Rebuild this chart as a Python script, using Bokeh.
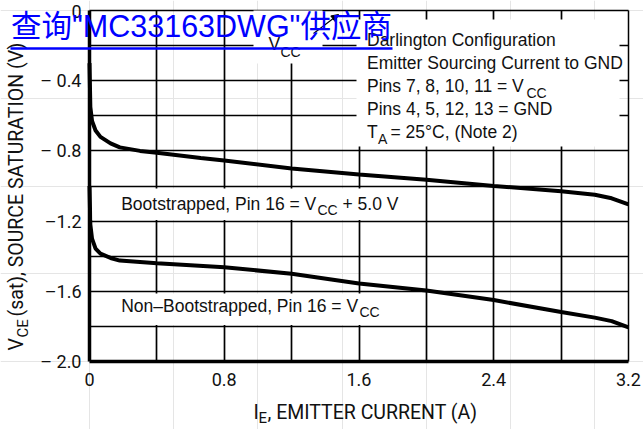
import math
from bokeh.plotting import figure
from bokeh.models import (Range1d, FixedTicker, Label, BoxAnnotation, Arrow, Grid,
                          NormalHead, CustomJSTickFormatter, LinearAxis)
from bokeh.embed import file_html
from bokeh.resources import INLINE

# ---------------- data ----------------
ie_boot = [0.0, 0.005, 0.015, 0.036, 0.065, 0.125, 0.18, 0.30, 0.40, 0.66,
           0.80, 1.20, 1.60, 2.00, 2.40, 2.80, 3.00, 3.10, 3.20]
vce_boot = [-0.30, -0.55, -0.63, -0.684, -0.72, -0.757, -0.78, -0.80, -0.81, -0.84,
            -0.855, -0.90, -0.935, -0.965, -1.00, -1.03, -1.05, -1.07, -1.105]

ie_nonboot = [0.0, 0.005, 0.015, 0.036, 0.065, 0.125, 0.18, 0.40, 0.80, 1.20,
              1.60, 2.00, 2.40, 2.80, 3.00, 3.10, 3.20]
vce_nonboot = [-1.00, -1.22, -1.30, -1.357, -1.385, -1.41, -1.425, -1.44, -1.463, -1.50,
               -1.555, -1.595, -1.65, -1.718, -1.75, -1.77, -1.806]

x_ticks = [0, 0.8, 1.6, 2.4, 3.2]
x_tick_labels = ["0", "0.8", "1.6", "2.4", "3.2"]
y_ticks = [-2.0, -1.6, -1.2, -0.8, -0.4, 0.0]
y_tick_labels = ["\u2013 2.0", "\u20131.6", "\u20131.2", "\u2013 0.8", "\u2013 0.4", "0"]
x_grid = [0.4, 0.8, 1.2, 1.6, 2.0, 2.4, 2.8]
y_grid = [-1.8, -1.6, -1.4, -1.2, -1.0, -0.8, -0.6, -0.4, -0.2]
X0, X1 = 0.0, 3.2
Y0, Y1 = -2.0, 0.0

# ---------------- layout helpers (canvas pixels -> data) ----------------
W, H = 643, 429
FL, FR, FT, FB = 89, 628, 10, 361
BASE_FIX = 0.38   # em offset between Bokeh's alphabetic anchor and the glyph baseline


def X(px):
    return X0 + (px - FL) / (FR - FL) * (X1 - X0)


def Y(py):
    return Y1 + (py - FT) / (FB - FT) * (Y0 - Y1)


TXT = "Liberation Sans"
AXF = "Roboto"
INK = "#111111"

p = figure(width=W, height=H, output_backend="svg", toolbar_location=None,
           x_range=Range1d(X(0), X(W)), y_range=Range1d(Y(H), Y(0)),
           x_axis_location=None, y_axis_location=None,
           min_border=0, min_border_left=0, min_border_right=0,
           min_border_top=0, min_border_bottom=0)
p.background_fill_color = "white"
p.border_fill_color = "white"
p.outline_line_color = None

JS = """
let i = -1;
for (let k = 0; k < tv.length; k++) { if (Math.abs(tv[k] - tick) < 1e-6) { i = k; } }
return i >= 0 ? tl[i] : '';
"""

xaxis = LinearAxis(fixed_location=Y0, bounds=(X0, X1),
                   ticker=FixedTicker(ticks=x_ticks),
                   formatter=CustomJSTickFormatter(args=dict(tv=x_ticks, tl=x_tick_labels), code=JS))
yaxis = LinearAxis(fixed_location=X0, bounds=(Y0, Y1),
                   ticker=FixedTicker(ticks=y_ticks),
                   formatter=CustomJSTickFormatter(args=dict(tv=y_ticks, tl=y_tick_labels), code=JS))
for ax in (xaxis, yaxis):
    ax.axis_line_width = 3.5
    ax.axis_line_color = "black"
    ax.major_tick_line_color = None
    ax.minor_tick_line_color = None
    ax.major_tick_out = 0
    ax.major_tick_in = 0
    ax.major_label_text_font = AXF
    ax.major_label_text_font_size = "18px"
    ax.major_label_text_color = INK
xaxis.major_label_standoff = 11
yaxis.major_label_standoff = 8
p.add_layout(xaxis, "below")
p.add_layout(yaxis, "left")

# thin top / right border
top_axis = LinearAxis(fixed_location=Y1, bounds=(X0, X1), ticker=FixedTicker(ticks=[]),
                      axis_line_width=1.5, axis_line_color="black",
                      major_tick_line_color=None, minor_tick_line_color=None,
                      major_label_text_color=None)
right_axis = LinearAxis(fixed_location=X1, bounds=(Y0, Y1), ticker=FixedTicker(ticks=[]),
                        axis_line_width=1.5, axis_line_color="black",
                        major_tick_line_color=None, minor_tick_line_color=None,
                        major_label_text_color=None)
p.add_layout(top_axis, "above")
p.add_layout(right_axis, "right")

gx = Grid(dimension=0, ticker=FixedTicker(ticks=x_grid), bounds=(X0, X1), cross_bounds=(Y0, Y1))
gy = Grid(dimension=1, ticker=FixedTicker(ticks=y_grid), bounds=(Y0, Y1), cross_bounds=(X0, X1))
for g in (gx, gy):
    g.grid_line_color = "black"
    g.grid_line_width = 1.7
    p.add_layout(g)

# curves
p.line(ie_boot, vce_boot, line_width=4, line_color="black")
p.line(ie_nonboot, vce_nonboot, line_width=4, line_color="black")

# white boxes behind annotations
for (l, r, t, b) in [(356, 619, 19, 146), (253, 322, 10, 63),
                     (92, 418, 188, 219.5), (92, 416, 293, 324.5)]:
    p.add_layout(BoxAnnotation(left=X(l), right=X(r), top=Y(t), bottom=Y(b),
                               fill_color="white", fill_alpha=1.0, line_color=None))


def lab(text, px, py, size=17.5, font=TXT, angle=0.0, color=INK):
    # px, py: where the glyph baseline starts on the canvas
    if angle:
        px = px - BASE_FIX * size
    else:
        py = py - BASE_FIX * size
    p.add_layout(Label(x=X(px), y=Y(py), text=text, text_font=font,
                       text_font_size=f"{size}px", text_color=color,
                       text_align="left", text_baseline="alphabetic", angle=angle))


# top-right block
lab("Darlington Configuration", 366.5, 46.5)
lab("Emitter Sourcing Current to GND", 366.5, 69.5)
lab("Pins 7, 8, 10, 11 = V", 366.5, 92)
lab("CC", 526, 98, size=14)
lab("Pins 4, 5, 12, 13 = GND", 366.5, 115)
lab("T", 366.5, 138)
lab("A", 377.5, 143.5, size=14)
lab("= 25\u00b0C, (Note 2)", 390, 138)

# curve captions
lab("Bootstrapped, Pin 16 = V", 120.7, 210)
lab("CC", 317, 214.5, size=14)
lab("+ 5.0 V", 342, 210)
lab("Non\u2013Bootstrapped, Pin 16 = V", 120.7, 312)
lab("CC", 359, 317, size=14)

# Vcc schematic fragment
lab("V", 268, 50)
lab("CC", 280, 56.5, size=14)
p.add_layout(Arrow(end=NormalHead(size=7, fill_color="black", line_color="black"),
                   x_start=X(313), y_start=Y(33), x_end=X(338), y_end=Y(14),
                   line_width=1.2, line_color="black"))

# axis titles
lab("I", 253, 419, size=19.5, font=AXF)
lab("E", 258, 423, size=15, font=AXF)
lab(", EMITTER CURRENT (A)", 267, 419, size=19.5, font=AXF)

rot = math.pi / 2
lab("V", 23.5, 350, size=19.5, font=AXF, angle=rot)
lab("CE", 28, 337, size=15, font=AXF, angle=rot)
lab("(sat), SOURCE SATURATION (V)", 23.5, 316, size=19.5, font=AXF, angle=rot)

# blue watermark overlay
lab("\u67e5\u8be2\"MC33163DWG\"\u4f9b\u5e94\u5546", 10.5, 37, size=30.5,
    font="Liberation Sans, Noto Sans CJK SC", color="#0000ff")
p.add_layout(BoxAnnotation(left=X(10), right=X(392), top=Y(46.8), bottom=Y(49.2),
                           fill_color="#0000ff", fill_alpha=1.0, line_color=None))

open("out.html", "w").write(file_html(p, INLINE))
